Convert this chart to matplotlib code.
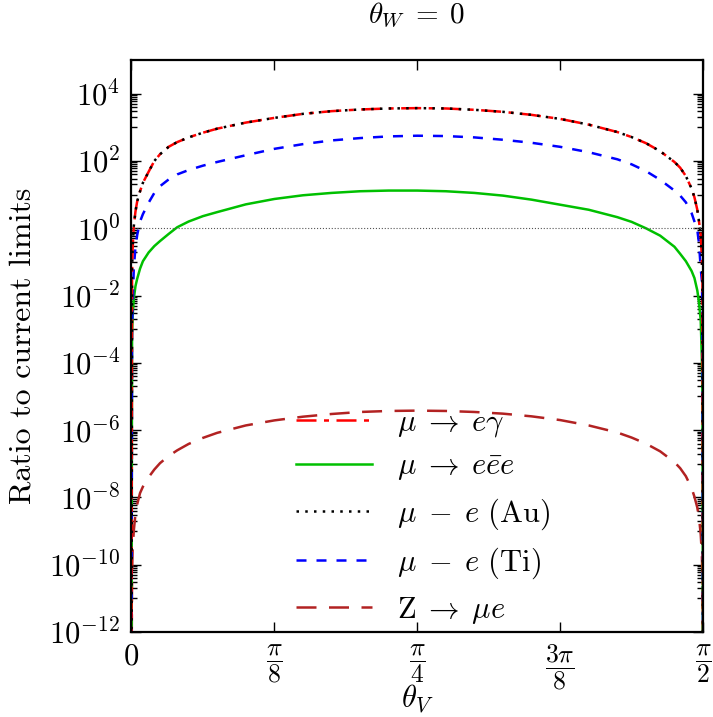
import numpy as np
import matplotlib.pyplot as plt
from matplotlib.ticker import FixedLocator, NullFormatter

plt.rcParams['mathtext.fontset'] = 'cm'
plt.rcParams['font.family'] = ['cmr10', 'DejaVu Serif']
plt.rcParams['axes.formatter.use_mathtext'] = True

# ==========================================================
# DATA (theta_V as a fraction of pi/2, values as log10 of the ratio)
# ==========================================================

frac = [0.0, 0.001, 0.002, 0.004, 0.007, 0.01, 0.015, 0.02, 0.03, 0.04,
        0.05, 0.065, 0.08, 0.1, 0.125, 0.15, 0.2, 0.25, 0.3, 0.35, 0.4,
        0.45, 0.5, 0.55, 0.6, 0.65, 0.7, 0.75, 0.8, 0.85, 0.875, 0.9,
        0.925, 0.95, 0.96, 0.97, 0.98, 0.985, 0.99, 0.993, 0.996, 0.998,
        0.999, 1.0]

# mu -> e gamma
eg_log = [-14, -1.3, -0.6, 0.05, 0.5, 0.8, 1.1, 1.35, 1.68, 2.0,
          2.2, 2.42, 2.56, 2.7, 2.84, 2.96, 3.14, 3.28, 3.40, 3.48, 3.53,
          3.56, 3.57, 3.56, 3.52, 3.46, 3.37, 3.25, 3.08, 2.86, 2.71, 2.53,
          2.29, 1.97, 1.80, 1.55, 1.18, 0.92, 0.55, 0.2, -0.2, -0.9,
          -1.5, -14]

# mu - e (Au), lies on top of mu -> e gamma
au_log = [-14, -1.3, -0.6, 0.05, 0.5, 0.8, 1.1, 1.35, 1.68, 2.0,
          2.2, 2.42, 2.56, 2.7, 2.84, 2.96, 3.14, 3.28, 3.40, 3.48, 3.53,
          3.56, 3.57, 3.56, 3.52, 3.46, 3.37, 3.25, 3.08, 2.86, 2.71, 2.53,
          2.29, 1.97, 1.80, 1.55, 1.18, 0.92, 0.55, 0.2, -0.2, -0.9,
          -1.5, -14]

# mu - e (Ti)
ti_log = [-14, -2.9, -2.4, -1.2, -0.55, -0.2, 0.2, 0.42, 0.76, 1.05,
          1.25, 1.45, 1.6, 1.73, 1.86, 1.97, 2.17, 2.36, 2.5, 2.61, 2.68,
          2.73, 2.75, 2.74, 2.7, 2.63, 2.54, 2.42, 2.26, 2.05, 1.9, 1.7,
          1.44, 1.12, 0.97, 0.77, 0.45, 0.2, -0.05, -0.45, -1.2, -1.55,
          -2.3, -14]

# mu -> e ebar e
eee_log = [-14, -3.2, -2.6, -2.1, -1.72, -1.5, -1.2, -0.98, -0.72, -0.53,
           -0.38, -0.17, 0.03, 0.2, 0.36, 0.48, 0.71, 0.87, 0.98, 1.05, 1.1,
           1.12, 1.12, 1.1, 1.05, 0.97, 0.85, 0.7, 0.55, 0.33, 0.19, 0.0,
           -0.22, -0.55, -0.76, -0.98, -1.27, -1.48, -1.85, -2.2, -2.74, -3.9,
           -5.0, -14]

# Z -> mu e
z_log = [-14, -10.3, -9.6, -9.0, -8.48, -8.2, -7.87, -7.68, -7.4, -7.17,
         -6.98, -6.77, -6.6, -6.41, -6.23, -6.08, -5.86, -5.71, -5.6, -5.52,
         -5.46, -5.43, -5.42, -5.43, -5.46, -5.51, -5.59, -5.7, -5.86, -6.07,
         -6.22, -6.4, -6.63, -6.95, -7.13, -7.37, -7.72, -7.98, -8.3, -8.6,
         -9.1, -9.7, -10.4, -14]

x_ticks = [0, np.pi / 8, np.pi / 4, 3 * np.pi / 8, np.pi / 2]
x_ticklabels = [r'$0$', r'$\dfrac{\pi}{8}$', r'$\dfrac{\pi}{4}$',
                r'$\dfrac{3\pi}{8}$', r'$\dfrac{\pi}{2}$']

# ==========================================================
# PLOT
# ==========================================================

fig = plt.figure(figsize=(7.13, 7.17), dpi=100)
ax = fig.add_axes([0.1844, 0.1185, 0.8016, 0.7978])

theta = np.array(frac) * np.pi / 2
fs = 22

l_z, = ax.plot(theta, 10.0 ** np.array(z_log), color='#b22222', lw=1.8,
               dashes=(8, 5), label=r'$\mathrm{Z}\;\to\;\mu e$')
l_eee, = ax.plot(theta, 10.0 ** np.array(eee_log), color='#00c000', lw=1.8,
                 label=r'$\mu\;\to\;e\bar{e}e$')
l_ti, = ax.plot(theta, 10.0 ** np.array(ti_log), color='#0000ff', lw=1.8,
                dashes=(4, 4), label=r'$\mu\;-\;e\ \mathrm{(Ti)}$')
l_eg, = ax.plot(theta, 10.0 ** np.array(eg_log), color='#ff0000', lw=1.8,
                dashes=(8, 3, 2, 3), label=r'$\mu\;\to\;e\gamma$')
l_au, = ax.plot(theta, 10.0 ** np.array(au_log), color='black', lw=1.8,
                dashes=(1, 2.5), label=r'$\mu\;-\;e\ \mathrm{(Au)}$')

ax.axhline(1.0, color='#555555', lw=0.8, ls=':')

ax.set_yscale('log')
ax.set_xlim(0, np.pi / 2)
ax.set_ylim(1e-12, 1e5)

ax.set_xticks(x_ticks)
ax.set_xticklabels(x_ticklabels)

ax.yaxis.set_major_locator(FixedLocator([10.0 ** e for e in range(-12, 5, 2)]))
minor = [k * 10.0 ** e for e in range(-11, 4, 2) for k in range(1, 10)]
ax.yaxis.set_minor_locator(FixedLocator(minor))
ax.yaxis.set_minor_formatter(NullFormatter())

ax.tick_params(which='both', direction='in', top=True, right=True,
               labelsize=fs, width=1)
ax.tick_params(which='major', length=7, pad=8)
ax.tick_params(which='minor', length=4)
ax.tick_params(axis='x', pad=8)
for lab in ax.get_xticklabels()[1:]:
    lab.set_fontsize(18.5)
for s in ax.spines.values():
    s.set_linewidth(1.6)

ax.set_xlabel(r'$\theta_V$', fontsize=fs)
ax.xaxis.label.set_va('center')
ax.xaxis.set_label_coords(0.5, -0.116)
ax.set_ylabel('Ratio to current limits', fontsize=23)
ax.yaxis.set_label_coords(-0.167, 0.5)
fig.text(0.585, 1 - 15 / 717, r'$\theta_W\;=\;0$', fontsize=21,
         ha='center', va='center')

ax.legend(handles=[l_eg, l_eee, l_au, l_ti, l_z], loc='center',
          bbox_to_anchor=(0.51, 0.2), frameon=False, fontsize=fs,
          handlelength=2.5, labelspacing=0.45)

plt.savefig('out.png', dpi=100)
